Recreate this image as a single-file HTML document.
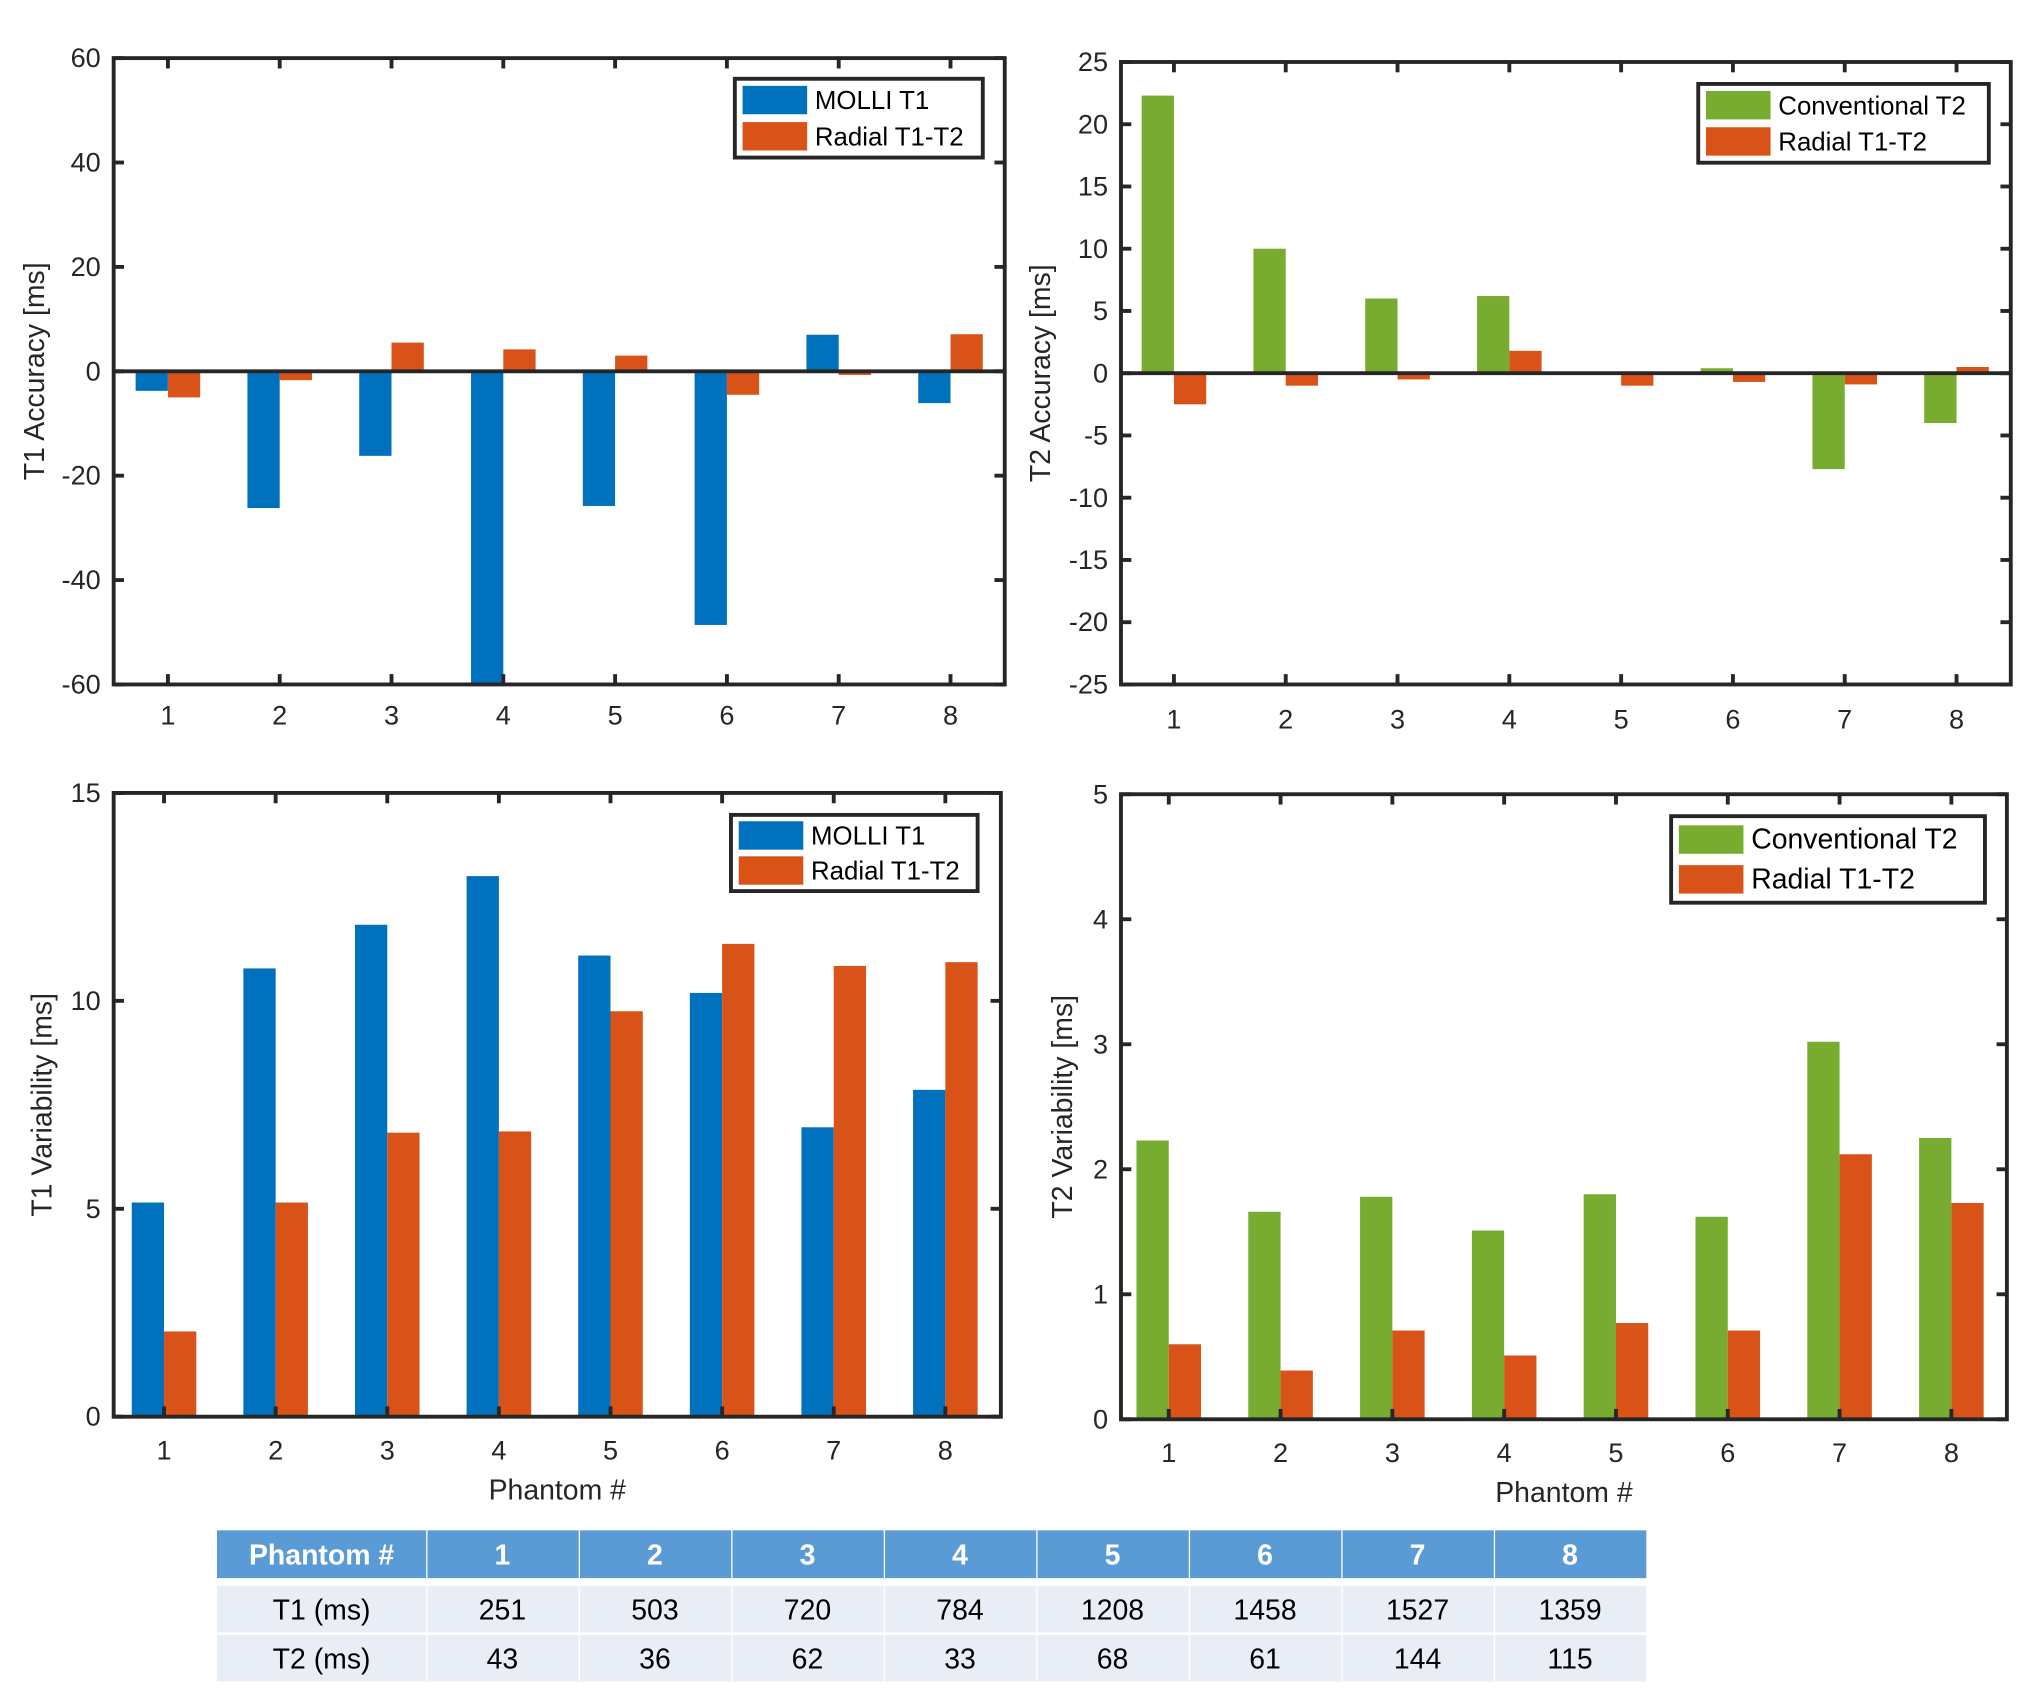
<!DOCTYPE html>
<html><head><meta charset="utf-8">
<style>
html,body{margin:0;padding:0;background:#fff;}
svg{display:block;font-family:"Liberation Sans",sans-serif;}
</style></head>
<body>
<svg id="fig" width="2025" height="1699" viewBox="0 0 1568 1315.6" xmlns="http://www.w3.org/2000/svg"></svg>
<script>
const phantoms = [1,2,3,4,5,6,7,8];
const t1AccMolli = [-3.75,-26.2,-16.2,-60,-25.8,-48.6,7.0,-6.1];
const t1AccRadial = [-5,-1.7,5.5,4.2,3,-4.5,-0.7,7.1];
const t2AccConv = [22.3,10.0,6.0,6.2,0,0.4,-7.7,-4.0];
const t2AccRadial = [-2.5,-1.0,-0.5,1.8,-1.0,-0.7,-0.9,0.5];
const t1VarMolli = [5.15,10.78,11.83,13.0,11.09,10.19,6.96,7.86];
const t1VarRadial = [2.05,5.15,6.83,6.86,9.75,11.37,10.84,10.93];
const t2VarConv = [2.23,1.66,1.78,1.51,1.80,1.62,3.02,2.25];
const t2VarRadial = [0.6,0.39,0.71,0.51,0.77,0.71,2.12,1.73];
const t1AccTicks = [-60,-40,-20,0,20,40,60];
const t2AccTicks = [-25,-20,-15,-10,-5,0,5,10,15,20,25];
const t1VarTicks = [0,5,10,15];
const t2VarTicks = [0,1,2,3,4,5];
const tableT1 = [251,503,720,784,1208,1458,1527,1359];
const tableT2 = [43,36,62,33,68,61,144,115];

const NS = "http://www.w3.org/2000/svg";
const svg = document.getElementById('fig');
function mk(tag, attrs, parent){const e=document.createElementNS(NS,tag);for(const k in attrs)e.setAttribute(k,attrs[k]);(parent||svg).appendChild(e);return e;}
const BLUE="#0072BD", ORANGE="#D95319", GREEN="#77AC30";

function chart(cfg){
  const g = mk('g',{});
  
  
  const {x0,x1,y0,y1,min,max,ticks,c1,c2,s1,s2,x1pos,x8pos} = cfg;
  const ys = v => y1 - (v-min)/(max-min)*(y1-y0);
  const xs = i => x1pos + (x8pos-x1pos)*(i)/7;
  const bw = 25;
  mk('rect',{x:x0,y:y0,width:x1-x0,height:y1-y0,fill:'#fff'},g);
  phantoms.forEach((p,i)=>{
    const xc = xs(i);
    [[s1,c1,-bw],[s2,c2,0]].forEach(([arr,col,off],k)=>{
      const v = arr[i];
      const ya = ys(Math.max(v,0)), yb = ys(Math.min(v,0));
      const r = mk('rect',{x:xc+off,y:ya,width:bw,height:Math.max(0,yb-ya),fill:col},g);
      
      
    });
    mk('line',{x1:xc,x2:xc,y1:y1,y2:y1-8,stroke:'#262626','stroke-width':3},g);
    mk('line',{x1:xc,x2:xc,y1:y0,y2:y0+8,stroke:'#262626','stroke-width':3},g);
    const t = mk('text',{x:xc,y:cfg.xlabY,'font-size':21,'text-anchor':'middle',fill:'#262626'},g);
    t.textContent = p;
    
    
  });
  if(min<0) mk('line',{x1:x0,x2:x1,y1:ys(0),y2:ys(0),stroke:'#262626','stroke-width':3},g);
  ticks.forEach(v=>{
    const y = ys(v);
    mk('line',{x1:x0,x2:x0+8,y1:y,y2:y,stroke:'#262626','stroke-width':3},g);
    mk('line',{x1:x1,x2:x1-8,y1:y,y2:y,stroke:'#262626','stroke-width':3},g);
    const t = mk('text',{x:x0-10,y:y+7,'font-size':21,'text-anchor':'end',fill:'#262626'},g);
    t.textContent = v;
    
    
  });
  mk('rect',{x:x0,y:y0,width:x1-x0,height:y1-y0,fill:'none',stroke:'#262626','stroke-width':3},g);
  const yt = mk('text',{x:0,y:0,'font-size':22,'text-anchor':'middle',fill:'#262626',transform:`translate(${cfg.ytX},${(y0+y1)/2}) rotate(-90)`},g);
  yt.textContent = cfg.ytitle;
  
  
  if(cfg.xtitle){
    const xt = mk('text',{x:(x0+x1)/2,y:cfg.xtY,'font-size':22,'text-anchor':'middle',fill:'#262626'},g);
    xt.textContent = cfg.xtitle;
    
    
  }
  const L = cfg.leg;
  const lg = mk('g',{},g);
  
  
  mk('rect',{x:L.x,y:L.y,width:L.w,height:L.h,fill:'#fff',stroke:'#262626','stroke-width':3},lg);
  [[c1,cfg.n1],[c2,cfg.n2]].forEach(([col,name],k)=>{
    const ry = L.y + L.h*(k==0?0.27:0.73);
    mk('rect',{x:L.x+6,y:ry-11,width:50,height:22,fill:col},lg);
    const t = mk('text',{x:L.x+62,y:ry+7,'font-size':L.fs,fill:'#000'},lg);
    t.textContent = name;
    
    
  });
}
chart({name:'t1-accuracy-chart',x0:88,x1:778,y0:45,y1:530,min:-60,max:60,ticks:t1AccTicks,c1:BLUE,c2:ORANGE,s1:t1AccMolli,s2:t1AccRadial,x1pos:130,x8pos:736,xlabY:561,ytitle:'T1 Accuracy [ms]',ytX:34,n1:'MOLLI T1',n2:'Radial T1-T2',leg:{x:569,y:61,w:192,h:61,fs:20}});
chart({name:'t2-accuracy-chart',x0:868,x1:1557,y0:48,y1:530,min:-25,max:25,ticks:t2AccTicks,c1:GREEN,c2:ORANGE,s1:t2AccConv,s2:t2AccRadial,x1pos:909,x8pos:1515,xlabY:564,ytitle:'T2 Accuracy [ms]',ytX:813,n1:'Conventional T2',n2:'Radial T1-T2',leg:{x:1315,y:65,w:225,h:61,fs:20}});
chart({name:'t1-variability-chart',x0:88,x1:775,y0:614,y1:1097,min:0,max:15,ticks:t1VarTicks,c1:BLUE,c2:ORANGE,s1:t1VarMolli,s2:t1VarRadial,x1pos:127,x8pos:732,xlabY:1130,ytitle:'T1 Variability [ms]',ytX:40,xtitle:'Phantom #',xtY:1161,n1:'MOLLI T1',n2:'Radial T1-T2',leg:{x:566,y:631,w:191,h:59,fs:20}});
chart({name:'t2-variability-chart',x0:868,x1:1554,y0:615,y1:1099,min:0,max:5,ticks:t2VarTicks,c1:GREEN,c2:ORANGE,s1:t2VarConv,s2:t2VarRadial,x1pos:905,x8pos:1511,xlabY:1132,ytitle:'T2 Variability [ms]',ytX:830,xtitle:'Phantom #',xtY:1163,n1:'Conventional T2',n2:'Radial T1-T2',leg:{x:1294,y:632,w:243,h:67,fs:22}});

// table
const tg = mk('g',{});


const colX = [168,330]; for(let i=1;i<=8;i++) colX.push(330+i*118.1);
const rows = [{y:1185,h:37,fill:'#5B9BD5',vals:['Phantom #',...phantoms],col:'#fff',bold:true},
              {y:1228,h:36,fill:'#E9EEF6',vals:['T1 (ms)',...tableT1],col:'#000',bold:false},
              {y:1266,h:36,fill:'#E9EEF6',vals:['T2 (ms)',...tableT2],col:'#000',bold:false}];
rows.forEach(r=>{
  for(let c=0;c<9;c++){
    mk('rect',{x:colX[c]+(c?1:0),y:r.y,width:colX[c+1]-colX[c]-(c?1:0),height:r.h,fill:r.fill},tg);
    const t = mk('text',{x:(colX[c]+colX[c+1])/2,y:r.y+r.h/2+8,'font-size':22,'text-anchor':'middle',fill:r.col,'font-weight':r.bold?'bold':'normal'},tg);
    t.textContent = r.vals[c];
    
    
  }
});
</script>
</body></html>
